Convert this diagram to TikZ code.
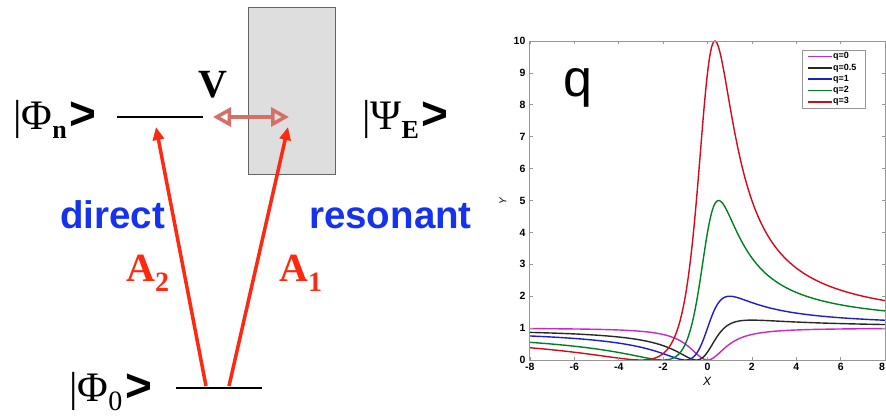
\documentclass[tikz,border=0pt]{standalone}
\usepackage{fontspec}
\setmainfont{Liberation Serif}
\setsansfont{Liberation Sans}
\usetikzlibrary{arrows.meta}
\definecolor{redarr}{RGB}{255,40,16}
\definecolor{salmon}{RGB}{212,112,104}
\definecolor{bluetxt}{RGB}{20,50,240}
\definecolor{boxgray}{RGB}{222,222,222}
\definecolor{boxedge}{RGB}{100,100,100}
\definecolor{axgray}{RGB}{150,150,150}
\definecolor{cM}{RGB}{200,40,200}
\definecolor{cK}{RGB}{40,40,40}
\definecolor{cB}{RGB}{30,30,200}
\definecolor{cG}{RGB}{0,128,30}
\definecolor{cR}{RGB}{210,10,30}
\newcommand{\fsz}[1]{\fontsize{#1}{#1}\selectfont}
\newcommand{\myket}[2]{{\fsz{42}|#1}\raisebox{-9pt}{#2}\hspace{3pt}{\fsz{46}\sffamily\bfseries >}}
\tikzset{
  ketlbl/.style={anchor=base west, inner sep=0pt},
  level/.style={line width=2pt, black},
  excite/.style={redarr, line width=3.5pt, -{Triangle[length=13pt,width=11pt]}},
  coupling/.style={salmon, line width=3.5pt, {Triangle[open,length=18pt,width=19pt,line width=3.5pt]}-{Triangle[open,length=18pt,width=19pt,line width=3.5pt]}},
  pathlbl/.style={anchor=base west, inner sep=0pt, text=bluetxt, font=\sffamily\bfseries\fsz{38.5}},
  amplbl/.style={anchor=base west, inner sep=0pt, text=redarr, font=\bfseries\fsz{40}},
  ticklbl/.style={font=\sffamily\bfseries\fsz{10.5}, inner sep=1pt},
  curve/.style={line width=1.4pt},
}
\begin{document}
\begin{tikzpicture}[x=1pt,y=-1pt]
\useasboundingbox[fill=white] (0,0) rectangle (886,416);

% continuum
\node[draw=boxedge, fill=boxgray, line width=0.8pt, anchor=north west,
      minimum width=87pt, minimum height=167pt, inner sep=0pt] (cont) at (248,7) {};

% levels
\coordinate (n1) at (117,117);
\coordinate (n2) at (203,117);
\coordinate (g1) at (176,388);
\coordinate (g2) at (262,388);
\draw[level] (n1) -- (n2);
\draw[level] (g1) -- (g2);

% kets
\node[ketlbl] (phin) at (13,129) {\myket{Φ}{\fsz{26}\bfseries n}};
\node[ketlbl] (psie) at (362,129) {\myket{Ψ}{\fsz{26}\bfseries E}\hspace{4pt}};
\node[ketlbl] (phi0) at (69,401) {\myket{Φ}{\fsz{28}0}};

% coupling V
\node[anchor=base west, inner sep=0pt, font=\bfseries\fsz{40}] (v) at (198,97) {V};
\coordinate (c1) at (213,117);
\coordinate (c2) at (289,117);
\draw[coupling] (c1) -- (c2);

% excitation arrows
\coordinate (a2s) at (206,386);
\coordinate (a2e) at (156,127);
\coordinate (a1s) at (229,386);
\coordinate (a1e) at (288,127);
\draw[excite] (a2s) -- (a2e);
\draw[excite] (a1s) -- (a1e);

\node[pathlbl] (direct) at (60,228) {direct};
\node[pathlbl] (reson) at (309,228) {resonant};
\node[amplbl] (A2) at (126,281) {A\raisebox{-10pt}{\fsz{28}2}};
\node[amplbl] (A1) at (279,281) {A\raisebox{-10pt}{\fsz{28}1}};

% plot
\begin{scope}[shift={(707.5pt,-360pt)}, x=22.2pt, y=31.9pt]
  \foreach \qv/\cc in {0/cM,0.5/cK,1/cB,2/cG,3/cR}
    \draw[curve,\cc] plot[domain=-8:8, samples=400] (\x,{(\x+\qv)*(\x+\qv)/(\x*\x+1)});
  \draw[axgray, line width=1pt] (-8,0) rectangle (8,10);
  \foreach \i in {-8,-6,...,6} {
    \draw[axgray, line width=0.8pt] (\i,0) -- ++(0,3pt);
    \draw[axgray, line width=0.8pt] (\i,10) -- ++(0,-3pt);
    \node[ticklbl, anchor=north] at (\i,-0.05) {\i};
  }
  \node[ticklbl, anchor=north east, inner sep=0pt] at (8,-0.08) {8};
  \foreach \j in {0,...,10} {
    \draw[axgray, line width=0.8pt] (-8,\j) -- ++(3pt,0);
    \draw[axgray, line width=0.8pt] (8,\j) -- ++(-3pt,0);
    \node[ticklbl, anchor=east] at (-8.15,\j) {\j};
  }
\end{scope}
\node[font=\sffamily\itshape\fsz{12}] (xl) at (707,381) {X};
\node[font=\sffamily\itshape\fsz{10}, rotate=90] (yl) at (503,201) {Y};
\node[anchor=base west, inner sep=0pt, font=\sffamily\fsz{52}] (qlbl) at (563,96) {q};

% legend
\node[draw=axgray, fill=white, line width=0.8pt, anchor=north west,
      minimum width=63pt, minimum height=58pt, inner sep=0pt] (leg) at (802,50) {};
\foreach \k/\lc/\lt in {0/cM/{q=0},1/cK/{q=0.5},2/cB/{q=1},3/cG/{q=2},4/cR/{q=3}} {
  \coordinate (l1) at (808,{56.5+11.3*\k});
  \coordinate (l2) at (832,{56.5+11.3*\k});
  \draw[draw=\lc, line width=1.6pt] (l1) -- (l2);
  \node[anchor=west, inner sep=1pt, font=\sffamily\bfseries\fsz{9}] at (l2) {\lt};
}
\end{tikzpicture}
\end{document}
